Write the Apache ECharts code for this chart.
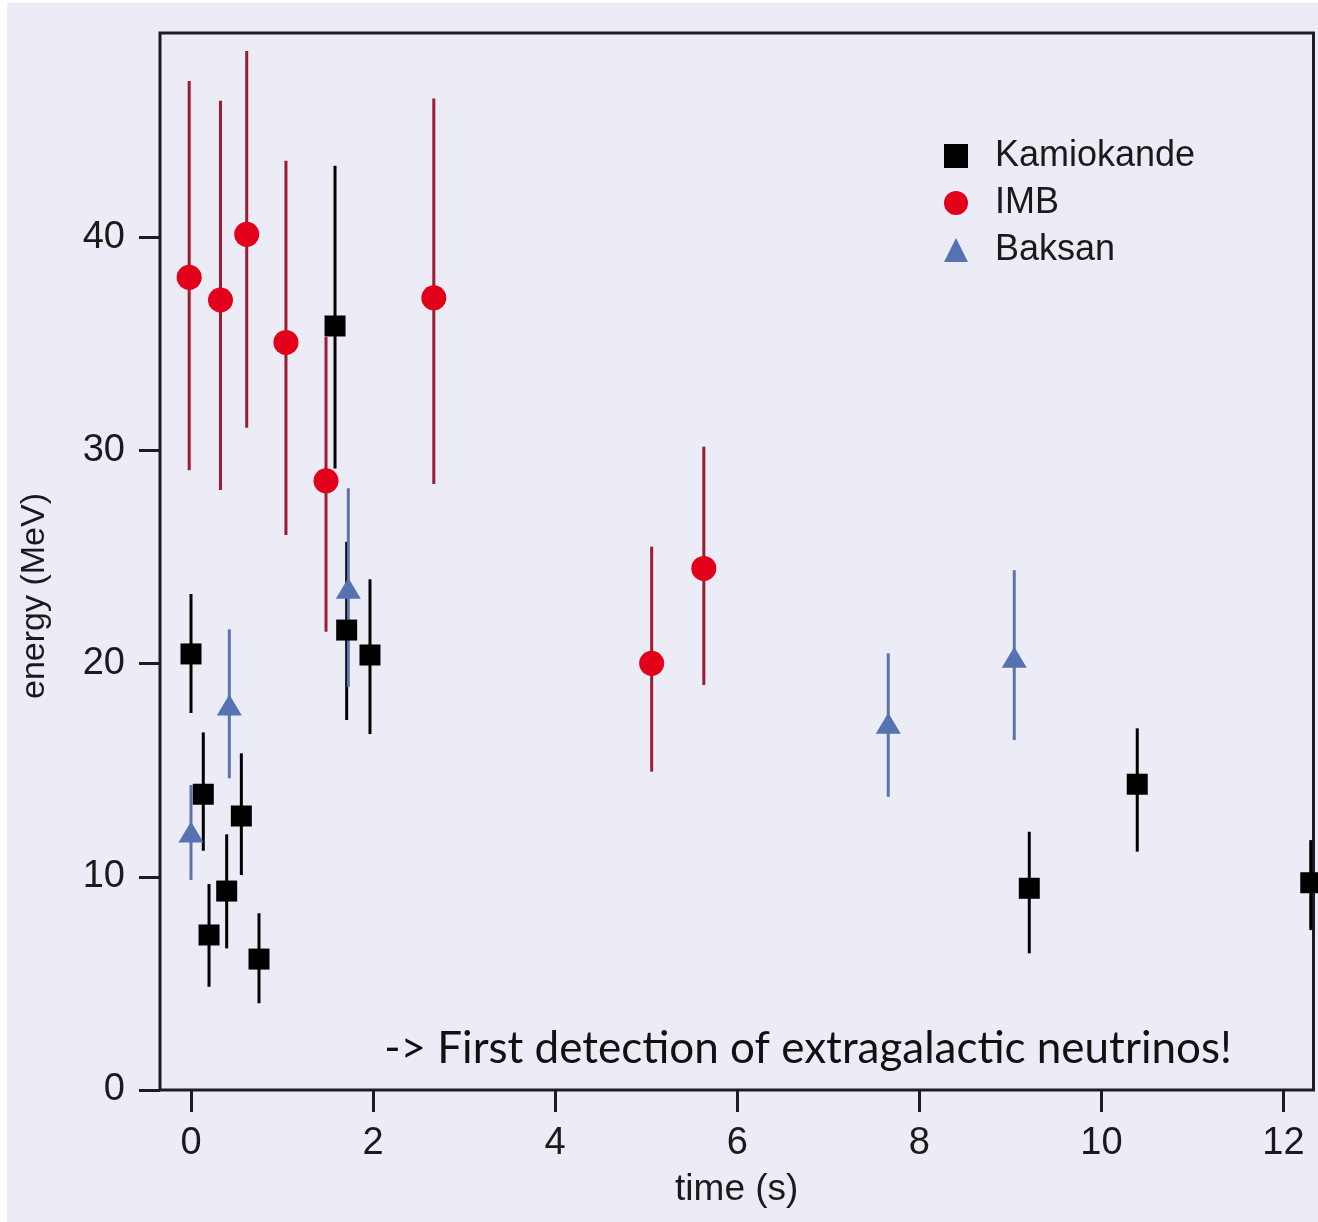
<!DOCTYPE html>
<html>
<head>
<meta charset="utf-8">
<script src="https://cdn.jsdelivr.net/npm/echarts@6/dist/echarts.min.js"></script>
<style>
  html, body { margin: 0; padding: 0; background: #ffffff; }
  #chart { width: 1318px; height: 1222px; }
</style>
</head>
<body>
<div id="chart"></div>
<script>
// ---- data (time in s, energy in MeV, error bar low/high) ----
const xTicks = [0, 2, 4, 6, 8, 10, 12];
const yTicks = [0, 10, 20, 30, 40];

const kamT  = [0.00, 0.135, 0.198, 0.392, 0.553, 0.747, 1.582, 1.710, 1.966, 9.208, 10.394, 12.30];
const kamE  = [20.45, 13.87, 7.27, 9.33, 12.85, 6.14, 35.83, 21.57, 20.40, 9.46, 14.34, 9.72];
const kamLo = [17.68, 11.22, 4.84, 6.64, 10.08, 4.07, 29.15, 17.35, 16.69, 6.41, 11.18, 7.50];
const kamHi = [23.26, 16.77, 9.66, 11.99, 15.79, 8.29, 43.34, 25.71, 23.95, 12.11, 16.96, 11.72];

const imbT  = [-0.02, 0.324, 0.612, 1.043, 1.483, 2.667, 5.060, 5.633];
const imbE  = [38.11, 37.05, 40.13, 35.06, 28.57, 37.15, 20.01, 24.46];
const imbLo = [29.07, 28.14, 31.06, 26.03, 21.49, 28.42, 14.93, 18.99];
const imbHi = [47.32, 46.39, 48.72, 43.58, 35.31, 46.50, 25.48, 30.17];

const bakT  = [0.00, 0.421, 1.728, 7.659, 9.043];
const bakE  = [12.10, 18.05, 23.53, 17.20, 20.29];
const bakLo = [9.85, 14.62, 18.91, 13.75, 16.41];
const bakHi = [14.30, 21.60, 28.22, 20.48, 24.38];

const seriesNames = ['Kamiokande', 'IMB', 'Baksan'];
const annotation = '-> First detection of extragalactic neutrinos!';

// ---- build ----
const pts = (t, e) => t.map((v, i) => [v, e[i]]);
const errs = (t, lo, hi) => t.map((v, i) => [v, lo[i], hi[i]]);

function errSeries(name, data, color) {
  return {
    type: 'custom',
    name: name,
    data: data,
    encode: { x: 0, y: [1, 2] },
    z: 1,
    silent: true,
    renderItem: function (params, api) {
      const x = api.value(0);
      const p1 = api.coord([x, api.value(1)]);
      const p2 = api.coord([x, api.value(2)]);
      return {
        type: 'line',
        shape: { x1: p1[0], y1: p1[1], x2: p2[0], y2: p2[1] },
        style: { stroke: color, lineWidth: 3 }
      };
    }
  };
}

const axisColor = '#1c1c26';
const textColor = '#1a1a1a';
const font = "'Liberation Sans', Arial, sans-serif";

const chart = echarts.init(document.getElementById('chart'), null, { renderer: 'canvas' });
chart.setOption({
  backgroundColor: '#ffffff',
  animation: false,
  graphic: [
    { type: 'rect', z: -10, silent: true,
      shape: { x: 7, y: 3, width: 1311, height: 1219 },
      style: { fill: '#ECECF6' } },
    { type: 'text', z: 10, silent: true,
      x: 35, y: 596, rotation: Math.PI / 2,
      style: { text: 'energy (MeV)', font: "34px 'Liberation Sans', Arial, sans-serif",
               fill: textColor, align: 'center', verticalAlign: 'middle' } },
    { type: 'text', z: 10, silent: true,
      x: 808, y: 1049,
      style: { text: annotation, font: "44px Lato, 'Open Sans', sans-serif",
               fill: '#111111', align: 'center', verticalAlign: 'middle' } }
  ],
  grid: {
    left: 160, top: 33, right: 4.5, bottom: 132,
    show: true, borderColor: axisColor, borderWidth: 3,
    backgroundColor: 'transparent', containLabel: false
  },
  legend: {
    orient: 'vertical',
    left: 944, top: 132.5,
    padding: 0, itemGap: 0,
    itemWidth: 24, itemHeight: 24,
    data: seriesNames,
    textStyle: { fontFamily: font, fontSize: 36, color: textColor, lineHeight: 47,
                 padding: [0, 0, 0, 22] }
  },
  xAxis: {
    type: 'value',
    min: -0.3405, max: 12.330,
    name: 'time (s)', nameLocation: 'middle', nameGap: 81,
    nameTextStyle: { fontFamily: font, fontSize: 37, color: textColor },
    axisLine: { show: false, onZero: false },
    splitLine: { show: false },
    axisTick: { show: true, inside: false, length: 22, customValues: xTicks,
                lineStyle: { color: axisColor, width: 3 } },
    axisLabel: { show: true, customValues: xTicks, margin: 35,
                 fontFamily: font, fontSize: 38, color: textColor }
  },
  yAxis: {
    type: 'value',
    min: 0, max: 49.57,
    axisLine: { show: false, onZero: false },
    splitLine: { show: false },
    axisTick: { show: true, inside: false, length: 21, customValues: yTicks,
                lineStyle: { color: axisColor, width: 3 } },
    axisLabel: { show: true, customValues: yTicks, margin: 35,
                 fontFamily: font, fontSize: 38, color: textColor }
  },
  series: [
    errSeries('Kamiokande error', errs(kamT, kamLo, kamHi), '#000000'),
    errSeries('IMB error', errs(imbT, imbLo, imbHi), '#9E1B32'),
    errSeries('Baksan error', errs(bakT, bakLo, bakHi), '#5B74AC'),
    { type: 'scatter', name: 'Kamiokande', data: pts(kamT, kamE), z: 3,
      symbol: 'rect', symbolSize: 21, itemStyle: { color: '#000000', opacity: 1 } },
    { type: 'scatter', name: 'IMB', data: pts(imbT, imbE), z: 3,
      symbol: 'circle', symbolSize: 25, itemStyle: { color: '#E3001B', opacity: 1 } },
    { type: 'scatter', name: 'Baksan', data: pts(bakT, bakE), z: 3,
      symbol: 'triangle', symbolSize: [25, 21], itemStyle: { color: '#5573B3', opacity: 1 } }
  ]
});
</script>
</body>
</html>
